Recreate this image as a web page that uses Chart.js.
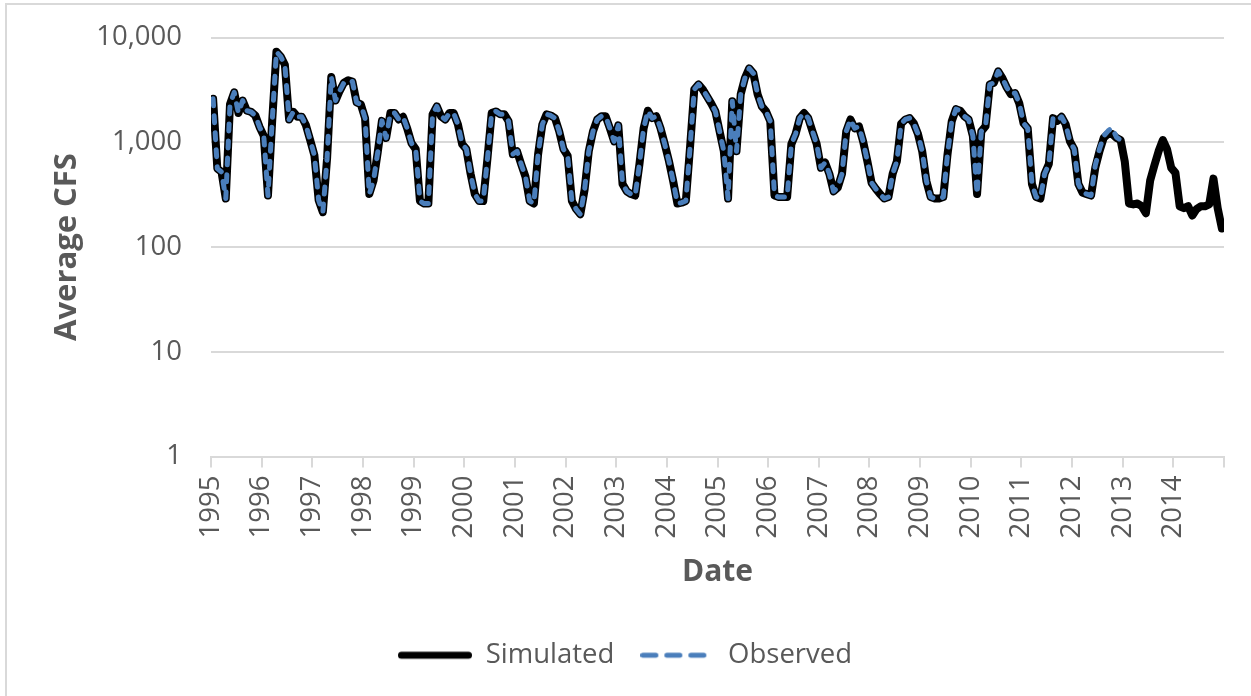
<!DOCTYPE html>
<html>
<head>
<meta charset="utf-8">
<script src="https://cdn.jsdelivr.net/npm/chart.js@4.4.1/dist/chart.umd.min.js"></script>
<style>
  html, body { margin: 0; padding: 0; background: #fff; }
  #wrap { position: relative; width: 1251px; height: 696px; overflow: hidden; }
  #frame { position: absolute; left: 5px; top: 3px; width: 1260px; height: 700px; border: 2px solid #d9d9d9; box-sizing: border-box; }
  canvas { position: absolute; left: 0; top: -8px; }
</style>
</head>
<body>
<div id="wrap">
  <div id="frame"></div>
  <canvas id="flowChart" width="1265" height="704"></canvas>
</div>
<script>
// monthly averages, Jan 1995 .. Dec 2014
const years = [1995, 1996, 1997, 1998, 1999, 2000, 2001, 2002, 2003, 2004,
               2005, 2006, 2007, 2008, 2009, 2010, 2011, 2012, 2013, 2014];
const yTicks = [1, 10, 100, 1000, 10000];

const simulated = [
  2600, 560, 520, 290, 2300, 3000, 1900, 2500, 2000, 1950, 1800, 1400,   // 1995
  1150, 310, 1600, 7300, 6600, 5500, 1650, 1950, 1750, 1750, 1450, 1050, // 1996
  750, 280, 215, 700, 4200, 2500, 3100, 3700, 3900, 3800, 2400, 2300,    // 1997
  1700, 320, 430, 800, 1600, 1100, 1900, 1900, 1650, 1750, 1350, 980,    // 1998
  860, 275, 260, 260, 1850, 2200, 1770, 1650, 1900, 1900, 1480, 960,     // 1999
  860, 500, 320, 275, 275, 700, 1900, 1970, 1850, 1850, 1585, 770,       // 2000
  820, 615, 470, 275, 260, 770, 1480, 1850, 1800, 1700, 1270, 860,       // 2001
  740, 275, 230, 205, 350, 820, 1270, 1650, 1770, 1770, 1360, 1020,      // 2002
  1450, 400, 340, 320, 310, 615, 1360, 2000, 1700, 1770, 1360, 960,      // 2003
  660, 425, 260, 265, 275, 900, 3200, 3560, 3200, 2740, 2350, 1970,      // 2004
  1270, 820, 290, 2460, 820, 2870, 4100, 5070, 4540, 2870, 2200, 1970,   // 2005
  1585, 310, 300, 300, 300, 960, 1200, 1700, 1900, 1700, 1270, 960,      // 2006
  570, 640, 500, 340, 370, 500, 1270, 1650, 1360, 1420, 1020, 660,       // 2007
  410, 360, 320, 290, 300, 500, 660, 1500, 1650, 1700, 1520, 1200,       // 2008
  820, 425, 300, 290, 290, 300, 770, 1585, 2070, 2000, 1770, 1650,       // 2009
  1150, 320, 1270, 1420, 3560, 3700, 4750, 4100, 3350, 2870, 2950, 2350, // 2010
  1520, 1360, 400, 300, 290, 500, 620, 1700, 1600, 1750, 1480, 1020,     // 2011
  860, 400, 330, 320, 310, 570, 820, 1100, 1200, 1200, 1100, 1050,       // 2012
  650, 260, 255, 260, 245, 210, 430, 600, 820, 1050, 860, 570,           // 2013
  510, 245, 235, 245, 200, 230, 245, 245, 255, 450, 235, 150             // 2014
];

const observed = [
  2600, 560, 520, 290, 2300, 3000, 1900, 2500, 2000, 1950, 1800, 1400,   // 1995
  1150, 310, 1600, 7300, 6600, 5500, 1650, 1950, 1750, 1750, 1450, 1050, // 1996
  750, 280, 215, 700, 4200, 2500, 3100, 3700, 3900, 3800, 2400, 2300,    // 1997
  1700, 320, 430, 800, 1600, 1100, 1900, 1900, 1650, 1750, 1350, 980,    // 1998
  860, 275, 260, 260, 1850, 2200, 1770, 1650, 1900, 1900, 1480, 960,     // 1999
  860, 500, 320, 275, 275, 700, 1900, 1970, 1850, 1850, 1585, 770,       // 2000
  820, 615, 470, 275, 260, 770, 1480, 1850, 1800, 1700, 1270, 860,       // 2001
  740, 275, 230, 205, 350, 820, 1270, 1650, 1770, 1770, 1360, 1020,      // 2002
  1450, 400, 340, 320, 310, 615, 1360, 2000, 1700, 1770, 1360, 960,      // 2003
  660, 425, 260, 265, 275, 900, 3200, 3560, 3200, 2740, 2350, 1970,      // 2004
  1270, 820, 290, 2460, 820, 2870, 4100, 5070, 4540, 2870, 2200, 1970,   // 2005
  1585, 310, 300, 300, 300, 960, 1200, 1700, 1900, 1700, 1270, 960,      // 2006
  570, 640, 500, 340, 370, 500, 1270, 1650, 1360, 1420, 1020, 660,       // 2007
  410, 360, 320, 290, 300, 500, 660, 1500, 1650, 1700, 1520, 1200,       // 2008
  820, 425, 300, 290, 290, 300, 770, 1585, 2070, 2000, 1770, 1650,       // 2009
  1150, 320, 1270, 1420, 3560, 3700, 4750, 4100, 3350, 2870, 2950, 2350, // 2010
  1520, 1360, 400, 300, 290, 500, 620, 1700, 1600, 1750, 1480, 1020,     // 2011
  860, 400, 330, 320, 310, 600, 860, 1150, 1280, 1380, 1120, 1050        // 2012
];

// x is months since Jan 1995; each monthly value sits mid-month
const toPoints = arr => arr.map((v, i) => ({ x: i + 0.5, y: v }));
const monthCount = years.length * 12;

const textColor = '#595959';
const gridColor = '#d9d9d9';
const baseFont = "'Open Sans', 'Liberation Sans', sans-serif";
const simColor = '#000000';
const obsColor = '#4a7ebb';

// small legend glyphs: solid black stroke and blue dashes
function legendGlyph(color, width, dash) {
    const c = document.createElement('canvas');
    c.width = 74;
    c.height = 12;
    const g = c.getContext('2d');
    g.strokeStyle = color;
    g.lineWidth = width;
    g.lineCap = 'round';
    g.setLineDash(dash);
    g.beginPath();
    g.moveTo(width / 2, 6);
    g.lineTo(74 - width / 2, 6);
    g.stroke();
    return c;
}
const simGlyph = legendGlyph(simColor, 7, []);
const obsGlyph = legendGlyph(obsColor, 5, [13, 11]);

new Chart(document.getElementById('flowChart'), {
    type: 'line',
    data: {
        datasets: [{
            label: 'Simulated',
            data: toPoints(simulated),
            borderColor: simColor,
            backgroundColor: simColor,
            borderWidth: 8,
            borderCapStyle: 'round',
            borderJoinStyle: 'round',
            pointRadius: 0,
            pointStyle: simGlyph,
            tension: 0,
            order: 2
        }, {
            label: 'Observed',
            data: toPoints(observed),
            borderColor: obsColor,
            backgroundColor: obsColor,
            borderWidth: 5,
            borderDash: [7, 10],
            borderCapStyle: 'round',
            borderJoinStyle: 'round',
            pointRadius: 0,
            pointStyle: obsGlyph,
            tension: 0,
            order: 1
        }]
    },
    options: {
        responsive: false,
        animation: false,
        layout: { padding: { left: 0, right: 15, top: 28, bottom: 17 } },
        plugins: {
            tooltip: { enabled: false },
            legend: {
                position: 'bottom',
                labels: {
                    usePointStyle: true,
                    pointStyleWidth: 74,
                    color: textColor,
                    font: { family: baseFont, size: 27.5 },
                    padding: 26,
                    sort: (a, b) => a.datasetIndex - b.datasetIndex
                }
            }
        },
        scales: {
            x: {
                type: 'linear',
                min: 0,
                max: monthCount,
                afterFit: axis => { axis.height = 159; },
                afterBuildTicks: axis => {
                    axis.ticks = years.map((y, k) => ({ value: k * 12 })).concat([{ value: monthCount }]);
                },
                grid: {
                    drawOnChartArea: false,
                    tickLength: 11,
                    lineWidth: 2,
                    color: gridColor
                },
                border: { display: true, color: gridColor, width: 2 },
                ticks: {
                    autoSkip: false,
                    maxRotation: 90,
                    minRotation: 90,
                    padding: 8,
                    color: textColor,
                    font: { family: baseFont, size: 27.5 },
                    callback: v => (v < monthCount ? String(years[v / 12]) : '')
                },
                title: {
                    display: true,
                    text: 'Date',
                    color: textColor,
                    font: { family: baseFont, size: 30, weight: 'bold' },
                    padding: { top: 0, bottom: 25 }
                }
            },
            y: {
                type: 'logarithmic',
                min: 1,
                max: 10000,
                afterFit: axis => { axis.width = 211; },
                afterBuildTicks: axis => { axis.ticks = yTicks.map(v => ({ value: v })); },
                grid: { color: gridColor, lineWidth: 2, drawTicks: false },
                border: { display: false },
                ticks: {
                    padding: 29,
                    color: textColor,
                    font: { family: baseFont, size: 27.5 },
                    callback: v => Number(v).toLocaleString('en-US')
                },
                title: {
                    display: true,
                    text: 'Average CFS',
                    color: textColor,
                    font: { family: baseFont, size: 31, weight: 'bold' },
                    padding: { top: 49, bottom: 0 }
                }
            }
        }
    }
});
</script>
</body>
</html>
